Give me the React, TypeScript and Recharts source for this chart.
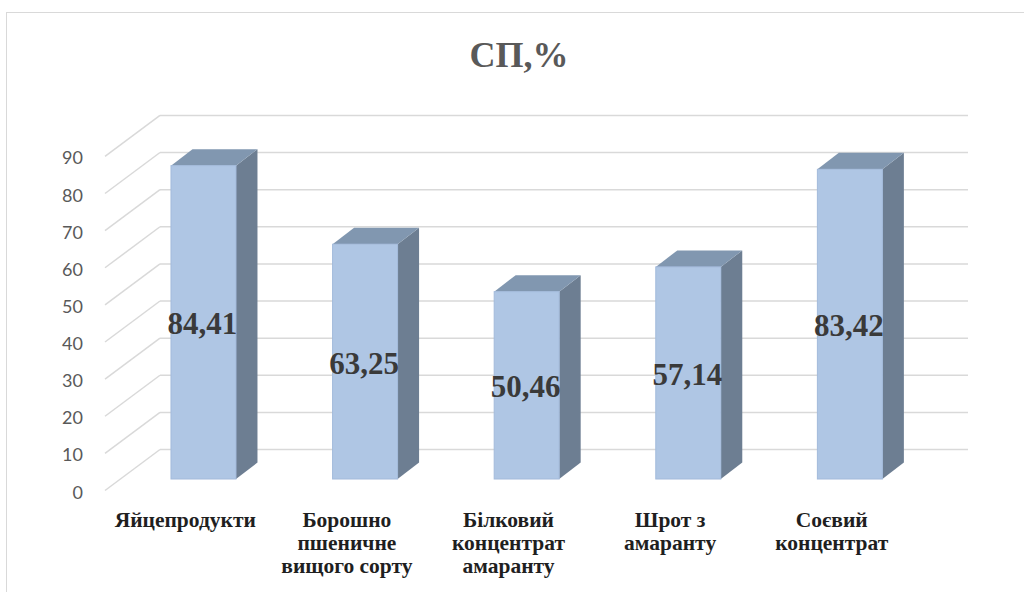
import React from 'react';
import { BarChart, Bar, XAxis, YAxis, CartesianGrid, LabelList, Customized } from 'recharts';

// Chart content
const chartTitle = 'СП,%';
const categories = [
  'Яйцепродукти',
  'Борошно пшеничне вищого сорту',
  'Білковий концентрат амаранту',
  'Шрот з амаранту',
  'Соєвий концентрат',
];
const values = [84.41, 63.25, 50.46, 57.14, 83.42];
const yTicks = [0, 10, 20, 30, 40, 50, 60, 70, 80, 90];

const data = categories.map((name, i) => ({ name, value: values[i] }));

// 3D projection of the bars and the back wall
const BAR_DX = 21.5;
const BAR_DY = -16.5;
const WALL_LEFT = 160;
const WALL_RIGHT = 968;
const WALL_DY = -29.5;
const FRONT_LEFT = 105;
const FRONT_DY = 11.5;

const COLOR_FRONT = '#afc6e4';
const COLOR_TOP = '#8197b0';
const COLOR_SIDE = '#6d7e92';
const GRID = '#d9d9d9';

const fmt = (v: number) => v.toFixed(2).replace('.', ',');

// Greedy word wrap for category labels
const wrapLabel = (s: string, maxChars = 12): string[] => {
  const words = s.split(' ');
  const lines: string[] = [];
  let cur = '';
  for (const w of words) {
    const next = cur ? cur + ' ' + w : w;
    if (next.length > maxChars && cur) {
      lines.push(cur);
      cur = w;
    } else {
      cur = next;
    }
  }
  if (cur) lines.push(cur);
  return lines;
};

const Box3D = (props: any) => {
  const { x, y, width, height } = props;
  if (width == null || height == null) return null;
  const w = width;
  const h = height;
  const top = `${x},${y} ${x + BAR_DX},${y + BAR_DY} ${x + w + BAR_DX},${y + BAR_DY} ${x + w},${y}`;
  const side = `${x + w},${y} ${x + w + BAR_DX},${y + BAR_DY} ${x + w + BAR_DX},${y + h + BAR_DY} ${x + w},${y + h}`;
  return (
    <g>
      <polygon points={side} fill={COLOR_SIDE} />
      <polygon points={top} fill={COLOR_TOP} />
      <rect x={x} y={y} width={w} height={h} fill={COLOR_FRONT} stroke="#a3badb" strokeWidth={1} />
    </g>
  );
};

// Each horizontal grid line becomes a diagonal on the side wall plus a line on the back wall
const WallLine = (props: any) => {
  const y = props.y1;
  if (y == null) return null;
  const backY = y + WALL_DY;
  return (
    <g key={props.key ?? `wl-${props.index}`}>
      <line x1={FRONT_LEFT} y1={y + FRONT_DY} x2={WALL_LEFT} y2={backY} stroke={GRID} strokeWidth={1.5} />
      <line x1={WALL_LEFT} y1={backY} x2={WALL_RIGHT} y2={backY} stroke={GRID} strokeWidth={1.5} />
    </g>
  );
};

const YTick = (props: any) => {
  const { y, payload } = props;
  return (
    <text
      x={83}
      y={y + 19.5}
      textAnchor="end"
      fill="#595959"
      style={{ fontFamily: 'Lato, "Liberation Sans", sans-serif', fontSize: 18 }}
    >
      {payload.value}
    </text>
  );
};

const XTick = (props: any) => {
  const { x, y, payload } = props;
  const lines = wrapLabel(String(payload.value));
  return (
    <text
      x={x - 18}
      y={y + 47.5}
      textAnchor="middle"
      fill="#1f1f1f"
      style={{ fontFamily: '"Liberation Serif", "Times New Roman", serif', fontSize: 21.5, fontWeight: 700 }}
    >
      {lines.map((l, i) => (
        <tspan key={i} x={x - 18} dy={i === 0 ? 0 : 23.3}>
          {l}
        </tspan>
      ))}
    </text>
  );
};

const ValueLabel = (props: any) => {
  const vb = props.viewBox || {};
  const x = props.x ?? vb.x;
  const y = props.y ?? vb.y;
  const width = props.width ?? vb.width;
  const height = props.height ?? vb.height;
  if (x == null || y == null) return null;
  return (
    <text
      x={x + width / 2 - 1}
      y={y + height / 2 + 12}
      textAnchor="middle"
      fill="#3a3a3a"
      style={{ fontFamily: '"Liberation Serif", "Times New Roman", serif', fontSize: 31, fontWeight: 700 }}
    >
      {fmt(Number(props.value))}
    </text>
  );
};

const Title = () => (
  <text
    x={519}
    y={67}
    textAnchor="middle"
    fill="#595959"
    style={{ fontFamily: '"Liberation Serif", "Times New Roman", serif', fontSize: 36, fontWeight: 700 }}
  >
    {chartTitle}
  </text>
);

export default function App() {
  return (
    <div style={{ position: 'absolute', left: 0, top: 0, width: 1024, height: 592, overflow: 'hidden', background: '#fff' }}>
      <div
        style={{
          position: 'absolute',
          left: 6,
          top: 12,
          width: 1100,
          height: 700,
          border: `1.5px solid ${GRID}`,
          boxSizing: 'border-box',
        }}
      />
      <div style={{ position: 'absolute', left: 0, top: 0 }}>
        <BarChart
          width={1024}
          height={592}
          data={data}
          margin={{ top: 144.9, right: 93.5, bottom: 53, left: 82.5 }}
          barCategoryGap="30%"
        >
          <CartesianGrid vertical={false} horizontal={WallLine} />
          <YAxis
            width={40}
            domain={[0, 90]}
            ticks={yTicks}
            interval={0}
            axisLine={false}
            tickLine={false}
            tickSize={0}
            tickMargin={0}
            tick={<YTick />}
          />
          <XAxis
            dataKey="name"
            height={60}
            interval={0}
            axisLine={false}
            tickLine={false}
            tickSize={0}
            tickMargin={0}
            tick={<XTick />}
          />
          <Bar dataKey="value" shape={<Box3D />} isAnimationActive={false}>
            <LabelList dataKey="value" position="center" content={<ValueLabel />} />
          </Bar>
          <Customized component={Title} />
        </BarChart>
      </div>
    </div>
  );
}
